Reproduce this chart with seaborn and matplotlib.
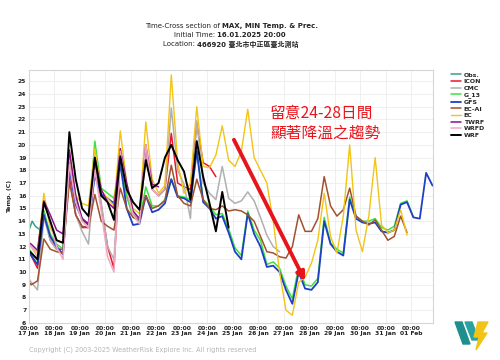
import pandas as pd
import matplotlib
matplotlib.use("Agg")
import matplotlib.pyplot as plt
import matplotlib.dates as mdates
from matplotlib.patches import Polygon
import seaborn as sns

# --- values: 6-hourly, first value at the run time 16 Jan 20:00 ---
run_time = "2025-01-16 20:00"

gfs = [12.2,
       11.3, 10.6, 14.5, 12.8,  12.0, 11.4, 18.2, 15.3,  14.2, 13.7, 17.6, 16.1,
       15.8, 15.4, 18.5, 15.0,  13.7, 13.8, 16.0, 14.7,  14.9, 15.4, 17.3, 15.9,
       15.8, 15.5, 19.5, 15.5,  15.0, 14.2, 14.4, 13.1,  11.6, 11.0, 14.6, 13.0,
       12.0, 10.4, 10.5, 10.0,  8.6, 7.5, 10.0, 8.7,  8.6, 9.2, 14.0, 12.2,
       11.6, 11.3, 15.7, 14.2,  13.9, 13.8, 13.9, 13.2,  13.1, 13.3, 15.3, 15.5,
       14.3, 14.2, 17.8, 16.8]
g13 = [12.2,
       11.6, 10.9, 14.8, 13.0,  12.2, 11.8, 18.6, 16.0,  14.0, 13.8, 20.3, 16.6,
       16.2, 15.8, 18.8, 16.0,  14.3, 14.0, 16.7, 15.2,  15.2, 15.7, 17.3, 16.0,
       15.9, 15.7, 19.6, 15.7,  15.2, 14.5, 14.6, 13.4,  11.9, 11.3, 14.8, 13.3,
       12.5, 10.6, 10.8, 10.3,  8.9, 7.9, 10.4, 9.0,  8.9, 9.5, 14.3, 12.3,
       11.8, 11.5, 15.9, 14.4,  14.0, 14.0, 14.2, 13.5,  13.3, 13.6, 15.4, 15.6,
       14.3]
ec = [12.5,
      12.0, 11.5, 16.2, 13.5,  12.5, 12.3, 19.5, 16.0,  15.4, 15.2, 19.7, 16.4,
      15.8, 15.2, 21.1, 17.0,  15.0, 14.6, 21.8, 17.3,  16.2, 16.8, 25.5, 18.6,
      16.2, 17.0, 23.0, 18.3,  18.2, 19.2, 21.5, 18.8,  18.3, 19.5, 22.8, 19.0,
      18.0, 17.0, 14.0, 10.0,  7.0, 6.6, 9.2, 9.6,  10.7, 12.5, 16.2, 12.8,
      11.5, 14.4, 20.0, 13.3,  11.6, 14.4, 19.0, 13.7,  13.1, 13.3, 14.9, 12.9]
ec_ai = [9.6,
         9.0, 9.3, 12.6, 11.8,  11.6, 11.5, 17.1, 14.5,  13.6, 13.5, 16.1, 14.0,
         13.6, 13.3, 16.6, 15.0,  14.3, 14.1, 16.0, 15.0,  15.2, 15.6, 18.4, 16.0,
         15.4, 15.2, 17.3, 15.7,  15.0, 14.9, 15.2, 14.8,  14.9, 14.8, 14.5, 14.0,
         12.8, 11.6, 11.5, 11.2,  11.1, 12.0, 14.5, 13.2,  13.2, 14.2, 17.5, 15.2,
         14.4, 14.9, 16.6, 14.4,  14.0, 13.7, 14.1, 13.3,  12.5, 12.8, 14.4, 13.1]
cmc = [10.0,
       9.2, 8.6, 14.3, 12.5,  11.8, 11.5, 18.6, 14.5,  13.2, 12.2, 18.2, 15.5,
       12.0, 11.0, 19.0, 16.0,  14.8, 14.0, 19.5, 16.5,  16.0, 16.5, 22.9, 18.0,
       16.9, 14.2, 21.9, 17.0,  16.2, 15.7, 18.3, 15.8,  15.4, 15.6, 16.3, 15.6,
       14.3, 12.9, 12.0, 11.6]
icon = [12.0,
        11.3, 10.3, 14.8, 12.5,  11.8, 11.8, 17.5, 14.5,  13.5, 13.5, 18.4, 15.2,
        12.0, 10.3, 19.2, 16.0,  14.5, 14.0, 19.3, 16.5,  16.0, 16.5, 20.9, 17.0,
        16.7, 16.5, 21.7, 18.6,  18.3, 17.5]
twrf = [12.5,
        12.2, 11.7, 15.6, 14.5,  13.3, 13.0, 19.6, 16.0,  14.2, 13.8, 19.0, 16.5,
        15.5, 15.0, 19.7, 17.0,  14.8, 14.2, 20.0, 16.9,  16.7]
wrfd = [12.3,
        12.0, 11.2, 15.5, 14.0,  12.0, 11.0, 18.5, 15.5,  14.0, 13.5, 18.0, 14.8,
        11.2, 10.0, 19.5, 16.5,  14.5, 13.8, 20.0, 16.5,  16.0]
wrf = [12.0,
       11.5, 11.0, 15.5, 14.0,  12.5, 12.3, 21.0, 17.3,  15.0, 14.4, 19.0, 16.0,
       15.5, 14.1, 19.1, 16.5,  15.5, 14.9, 18.8, 16.6,  17.0, 19.0, 20.0, 18.8,
       17.9, 15.7, 20.3, 17.5,  15.4, 13.2, 16.3, 13.5]
# observations, 3-hourly from 17 Jan 00:00
obs = [13.3, 14.0, 13.6, 13.4]

names = ["Obs.", "ICON", "CMC", "G_13", "GFS", "EC-AI", "EC", "TWRF", "WRFD", "WRF"]
series = [obs, icon, cmc, g13, gfs, ec_ai, ec, twrf, wrfd, wrf]
colors = ["#3a9d8a", "#e8192c", "#b0b0b0", "#3ee23e", "#1f3fc4", "#a0522d",
          "#f2c417", "#8b108b", "#f4a6c8", "#000000"]
widths = [1.1, 1.1, 1.1, 1.1, 1.3, 1.1, 1.0, 1.1, 1.1, 1.4]

day_ticks = pd.date_range("2025-01-17", "2025-02-01", freq="D")

sns.set_style("white")
plt.rcParams["font.family"] = ["DejaVu Sans", "Noto Sans CJK TC"]

fig = plt.figure(figsize=(5, 3.6), dpi=100)
ax = fig.add_axes([0.058, 0.103, 0.807, 0.703])

for name, vals, col, lw in zip(names, series, colors, widths):
    if name == "Obs.":
        t = pd.date_range("2025-01-17 00:00", periods=len(vals), freq="3h")
    else:
        t = pd.date_range(run_time, periods=len(vals), freq="6h")
    df = pd.DataFrame({"time": t, "temp": vals})
    sns.lineplot(data=df, x="time", y="temp", ax=ax, color=col, lw=lw, label=name)

ax.set_xlim(pd.Timestamp("2025-01-17 00:00"), pd.Timestamp("2025-02-01 20:00"))
ax.set_ylim(6, 25.9)
ax.set_yticks(range(6, 26))
ax.set_xticks(day_ticks)
ax.set_xticklabels([d.strftime("00:00\n%d %b") for d in day_ticks])
ax.tick_params(axis="both", length=0, labelsize=4.3, pad=2, colors="#222222")
for lab in ax.get_xticklabels() + ax.get_yticklabels():
    lab.set_fontweight("bold")
ax.grid(True, color="#ededed", lw=0.6)
for sp in ax.spines.values():
    sp.set_color("#d6d6d6")
    sp.set_linewidth(0.8)
ax.set_xlabel("")
ax.set_ylabel("Temp. (C)", fontsize=4.5, fontweight="bold", labelpad=4)

ax.legend(loc="upper left", bbox_to_anchor=(0.895, 0.808), bbox_transform=fig.transFigure,
          frameon=False, prop={"weight": "bold", "size": 4.5}, handlelength=1.6,
          handletextpad=0.5, labelspacing=0.2, borderpad=0)

# red arrow + note
x0 = mdates.date2num(pd.Timestamp("2025-01-25 01:00"))
x1 = mdates.date2num(pd.Timestamp("2025-01-27 20:00"))
ax.annotate("", xy=(x1, 9.3), xytext=(x0, 20.4),
            arrowprops=dict(arrowstyle="-|>", color="#e8141c", lw=2.8, mutation_scale=12,
                            shrinkA=0, shrinkB=0))
fig.text(270 / 500, 1 - 113 / 360, "留意24-28日間", color="#e8141c", fontsize=11.3,
         family=["Noto Sans CJK TC"], va="center", ha="left")
fig.text(270 / 500, 1 - 133 / 360, "顯著降溫之趨勢", color="#e8141c", fontsize=11.3,
         family=["Noto Sans CJK TC"], va="center", ha="left")

# title, regular + bold parts
title_rows = [("Time-Cross section of ", "MAX, MIN Temp. & Prec.", 222, 26),
              ("Initial Time: ", "16.01.2025 20:00", 217, 35),
              ("Location: ", "466920 臺北市中正區臺北測站", 197, 44)]
for plain, bold, xs, ys in title_rows:
    fig.text(xs / 500, 1 - ys / 360, plain, fontsize=5, ha="right", va="center", color="#222222")
    fig.text(xs / 500, 1 - ys / 360, bold, fontsize=5, ha="left", va="center",
             fontweight="bold", color="#222222")

fig.text(29 / 500, 1 - 350 / 360, "Copyright (C) 2003-2025 WeatherRisk Explore Inc. All rights reserved",
         fontsize=4.7, color="#b4b4b4", va="center")

# logo (rough shapes)
def px(pts):
    return [(x / 500, 1 - y / 360) for x, y in pts]

fig.patches.append(Polygon(px([(455, 322), (462, 322), (470, 344), (463, 344)]),
                           closed=True, color="#1f8e8e", transform=fig.transFigure, figure=fig))
fig.patches.append(Polygon(px([(465, 322), (472, 322), (479, 340), (472, 340)]),
                           closed=True, color="#2aa3a0", transform=fig.transFigure, figure=fig))
fig.patches.append(Polygon(px([(478, 322), (488, 322), (482, 333), (487, 333), (476, 350),
                               (479, 337), (474, 337)]),
                           closed=True, color="#f2c417", transform=fig.transFigure, figure=fig))

fig.savefig("out.png", dpi=100)
